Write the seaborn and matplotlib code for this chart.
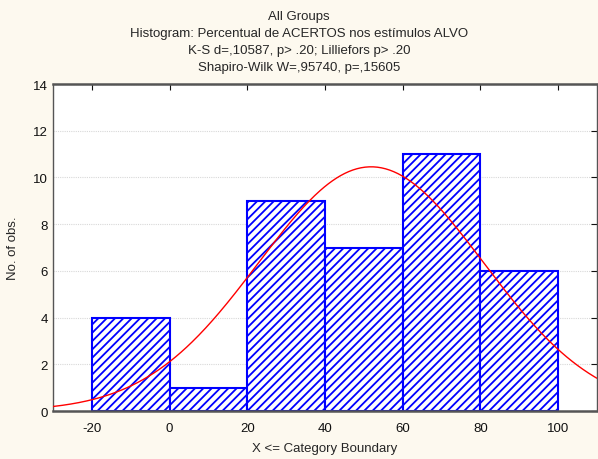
import numpy as np
import pandas as pd
import matplotlib
matplotlib.use("Agg")
import matplotlib.pyplot as plt
import seaborn as sns

# Histogram bins and counts
bin_edges = [-20, 0, 20, 40, 60, 80, 100]
bin_centers = [-10, 10, 30, 50, 70, 90]
counts = [4, 1, 9, 7, 11, 6]

# Fitted normal parameters
mean_val = 51.9
sd_val = 29.0
n_obs = sum(counts)

x_ticks = [-20, 0, 20, 40, 60, 80, 100]
y_ticks = [0, 2, 4, 6, 8, 10, 12, 14]

title_lines = [
    "All Groups",
    "Histogram: Percentual de ACERTOS nos estímulos ALVO",
    "K-S d=,10587, p> .20; Lilliefors p> .20",
    "Shapiro-Wilk W=,95740, p=,15605",
]

sns.set_style("white")
plt.rcParams["font.family"] = ["Liberation Sans", "DejaVu Sans"]
plt.rcParams["axes.unicode_minus"] = False
plt.rcParams["hatch.linewidth"] = 1.3
plt.rcParams["hatch.color"] = "#0000ff"

bg = "#fdf9ef"
fig = plt.figure(figsize=(5.98, 4.60), dpi=100, facecolor=bg)
ax = fig.add_axes([0.0886, 0.1043, 0.9094, 0.7109])
ax.set_facecolor("white")

df = pd.DataFrame({"x": bin_centers, "w": counts})
sns.histplot(data=df, x="x", weights="w", bins=bin_edges, ax=ax,
             stat="count", fill=True, facecolor="white", edgecolor="#0000ff",
             linewidth=1.5, alpha=1)
for p in ax.patches:
    p.set_hatch("////")
    p.set_edgecolor("#0000ff")
    p.set_facecolor("white")
    p.set_zorder(2)

bin_w = bin_edges[1] - bin_edges[0]
xs = np.linspace(-30, 110, 400)
ys = n_obs * bin_w / (sd_val * np.sqrt(2 * np.pi)) * np.exp(-(xs - mean_val) ** 2 / (2 * sd_val ** 2))
sns.lineplot(x=xs, y=ys, ax=ax, color="#ff0000", linewidth=1.0, zorder=3)

ax.set_xlim(-30, 110)
ax.set_ylim(0, 14)
ax.set_xticks(x_ticks)
ax.set_yticks(y_ticks)
ax.tick_params(axis="both", labelsize=9.5, colors="#111111", direction="in",
               length=4, width=0.8, top=True, right=True)
ax.tick_params(axis="x", pad=8)
ax.yaxis.grid(True, color="#d8d8d8", linestyle=(0, (1, 1)), linewidth=0.8)
ax.set_axisbelow(True)
for s in ax.spines.values():
    s.set_color("#555555")
    s.set_linewidth(1.0)
ax.spines["bottom"].set_linewidth(1.8)
ax.spines["top"].set_linewidth(1.8)

ax.set_xlabel("X <= Category Boundary", fontsize=9.5, labelpad=6)
ax.set_ylabel("No. of obs.", fontsize=9.5, labelpad=10)

for i, line in enumerate(title_lines):
    fig.text(0.5, 1 - (17 + i * 17) / 460, line, ha="center", va="center", fontsize=9.5)

fig.savefig("out.png", dpi=100, facecolor=bg)
